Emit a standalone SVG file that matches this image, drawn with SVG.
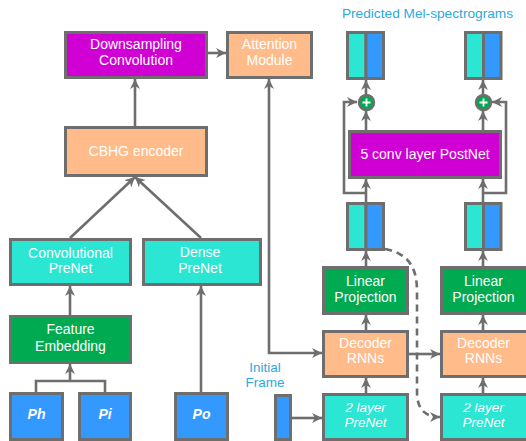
<svg xmlns="http://www.w3.org/2000/svg" width="526" height="441" viewBox="0 0 526 441">
<defs>
<style>
.b{stroke:#6e6e6e;stroke-width:3}
.pu{fill:#d000d4}.sa{fill:#ffbb8a}.cy{fill:#2ae6d3}.gr{fill:#00aa50}.bl{fill:#3399ff}
text{font-family:"Liberation Sans",Arial,sans-serif;font-size:14px;fill:#fff;text-anchor:middle}
.it{font-style:italic}
.bi{font-style:italic;font-weight:bold}
.lb{fill:#29aae1}
.c{fill:none;stroke:#6e6e6e;stroke-width:2.6}
.ce{marker-end:url(#ah)}
.cs{marker-start:url(#as)}
.d{stroke-dasharray:7,5}
</style>
<marker id="ah" markerWidth="12" markerHeight="12" refX="10" refY="5" orient="auto" markerUnits="userSpaceOnUse"><path d="M0,0 L10,5 L0,10 L3,5 Z" fill="#6e6e6e"/></marker>
<marker id="as" markerWidth="12" markerHeight="12" refX="10" refY="5" orient="auto-start-reverse" markerUnits="userSpaceOnUse"><path d="M0,0 L10,5 L0,10 L3,5 Z" fill="#6e6e6e"/></marker>
</defs>

<g id="connectors">
<path class="c ce" d="M135,126 V79"/>
<path class="c ce" d="M208,53 H226"/>
<path class="c ce" d="M70,238 L135,177"/>
<path class="c ce" d="M201,238 L135,177"/>
<path class="c ce" d="M70,315 V286"/>
<path class="c" d="M36,392 V381 H105 V392"/>
<path class="c ce" d="M70,381 V364"/>
<path class="c ce" d="M201,392 V286"/>
<path class="c cs ce" d="M269,79 V353 H322"/>
<path class="c ce" d="M291,418 H322"/>
<path class="c ce" d="M408,354 H440"/>
<path class="c ce" d="M366,394 V378"/>
<path class="c ce" d="M366,331 V315"/>
<path class="c ce" d="M366,267 V251"/>
<path class="c ce" d="M366,202 V179"/>
<path class="c ce" d="M366,193 H344 V102 H357"/>
<path class="c ce" d="M366,130 V111"/>
<path class="c ce" d="M366,94 V80"/>
<path class="c ce" d="M483,394 V378"/>
<path class="c ce" d="M483,331 V315"/>
<path class="c ce" d="M483,267 V251"/>
<path class="c ce" d="M483,202 V179"/>
<path class="c ce" d="M483,193 H506 V102 H492"/>
<path class="c ce" d="M483,130 V111"/>
<path class="c ce" d="M483,94 V80"/>
<path class="c ce d" d="M385,249 C412,254 417,272 417,292 V392 C417,408 424,417 440,417"/>
</g>

<g id="downsampling"><rect class="b pu" x="65.5" y="32.5" width="141" height="45"/><text x="136" y="49">Downsampling</text><text x="136" y="65">Convolution</text></g>
<g id="attention"><rect class="b sa" x="227.5" y="32.5" width="84" height="45"/><text x="269.5" y="49">Attention</text><text x="269.5" y="65">Module</text></g>
<g id="cbhg"><rect class="b sa" x="65.5" y="127.5" width="141" height="48"/><text x="136" y="156">CBHG encoder</text></g>
<g id="convprenet"><rect class="b cy" x="10.5" y="239.5" width="120" height="45"/><text x="70.5" y="258">Convolutional</text><text x="70.5" y="273">PreNet</text></g>
<g id="denseprenet"><rect class="b cy" x="143.5" y="239.5" width="117" height="45"/><text x="200" y="257">Dense</text><text x="200" y="273">PreNet</text></g>
<g id="featemb"><rect class="b gr" x="10.5" y="316.5" width="120" height="46"/><text x="70.5" y="334">Feature</text><text x="70.5" y="351">Embedding</text></g>
<g id="ph"><rect class="b bl" x="10.5" y="393.5" width="52" height="46"/><text class="bi" x="36.5" y="419">Ph</text></g>
<g id="pi"><rect class="b bl" x="79.5" y="393.5" width="51" height="46"/><text class="bi" x="105" y="419">Pi</text></g>
<g id="po"><rect class="b bl" x="175.5" y="393.5" width="52" height="46"/><text class="bi" x="201.5" y="419">Po</text></g>

<g id="mel-label"><text class="lb" x="427.5" y="18" style="font-size:13.7px">Predicted Mel-spectrograms</text></g>
<g id="initial-label"><text class="lb" x="265" y="372" style="font-size:13.5px">Initial</text><text class="lb" x="265" y="387" style="font-size:13.5px">Frame</text></g>
<g id="initialframe"><rect class="b bl" x="275.5" y="395.5" width="15" height="44"/></g>

<g id="specTopL"><rect class="b cy" x="347.5" y="32.5" width="18.5" height="46"/><rect class="b bl" x="366" y="32.5" width="17.5" height="46"/></g>
<g id="specTopR"><rect class="b cy" x="465.5" y="32.5" width="18" height="46"/><rect class="b bl" x="483.5" y="32.5" width="17.5" height="46"/></g>
<g id="specLowL"><rect class="b cy" x="347.5" y="203.5" width="18.5" height="46"/><rect class="b bl" x="366" y="203.5" width="17.5" height="46"/></g>
<g id="specLowR"><rect class="b cy" x="465.5" y="203.5" width="18" height="46"/><rect class="b bl" x="483.5" y="203.5" width="17.5" height="46"/></g>

<g id="plusL"><circle class="gr" cx="366.5" cy="102.5" r="7.5" stroke="#6e6e6e" stroke-width="2.5"/><path d="M366.5,98.5 V106.5 M362.5,102.5 H370.5" stroke="#fff" stroke-width="1.8"/></g>
<g id="plusR"><circle class="gr" cx="483.5" cy="102.5" r="7.5" stroke="#6e6e6e" stroke-width="2.5"/><path d="M483.5,98.5 V106.5 M479.5,102.5 H487.5" stroke="#fff" stroke-width="1.8"/></g>
<g id="postnet"><rect class="b pu" x="349.5" y="131.5" width="151" height="46"/><text x="425" y="159">5 conv layer PostNet</text></g>

<g id="linprojL"><rect class="b gr" x="323.5" y="267.5" width="84" height="46"/><text x="365.5" y="286">Linear</text><text x="365.5" y="302">Projection</text></g>
<g id="decL"><rect class="b sa" x="323.5" y="331.5" width="84" height="45"/><text x="365.5" y="348">Decoder</text><text x="365.5" y="363">RNNs</text></g>
<g id="prenetL"><rect class="b cy" x="323.5" y="394.5" width="84" height="45"/><text class="it" x="365.5" y="412" style="font-size:13.5px">2 layer</text><text class="it" x="365.5" y="427" style="font-size:13.5px">PreNet</text></g>
<g id="linprojR"><rect class="b gr" x="441.5" y="267.5" width="90" height="46"/><text x="483.5" y="286">Linear</text><text x="483.5" y="302">Projection</text></g>
<g id="decR"><rect class="b sa" x="441.5" y="331.5" width="90" height="45"/><text x="483.5" y="348">Decoder</text><text x="483.5" y="363">RNNs</text></g>
<g id="prenetR"><rect class="b cy" x="441.5" y="394.5" width="90" height="45"/><text class="it" x="483.5" y="412" style="font-size:13.5px">2 layer</text><text class="it" x="483.5" y="427" style="font-size:13.5px">PreNet</text></g>
</svg>
